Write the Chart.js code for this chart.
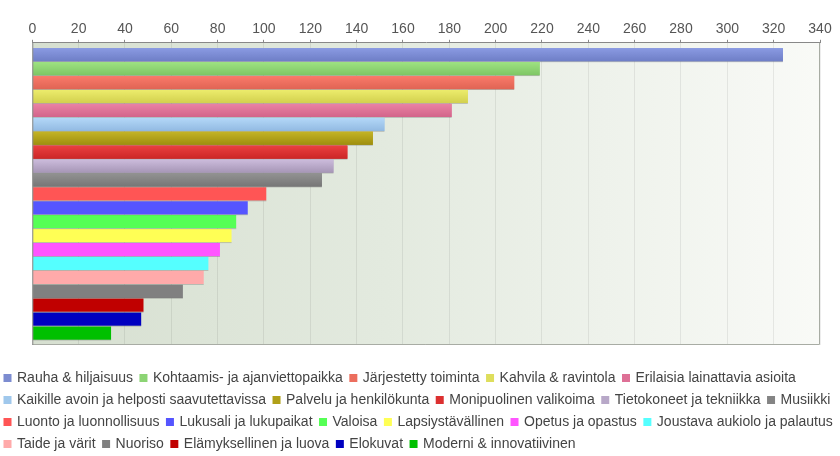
<!DOCTYPE html>
<html><head><meta charset="utf-8">
<script src="https://cdn.jsdelivr.net/npm/chart.js@4.4.1/dist/chart.umd.min.js"></script>
<style>
html,body{margin:0;padding:0;overflow:hidden;background:#fff;width:840px;height:456px;position:relative}
#wrap{position:absolute;left:-3px;top:0;width:846px;height:461px}
</style>
</head><body><div id="wrap"><canvas id="c" width="846" height="461"></canvas></div>
<script>
const seriesNames = [
  'Rauha & hiljaisuus','Kohtaamis- ja ajanviettopaikka','Järjestetty toiminta','Kahvila & ravintola','Erilaisia lainattavia asioita',
  'Kaikille avoin ja helposti saavutettavissa','Palvelu ja henkilökunta','Monipuolinen valikoima','Tietokoneet ja tekniikka','Musiikki',
  'Luonto ja luonnollisuus','Lukusali ja lukupaikat','Valoisa','Lapsiystävällinen','Opetus ja opastus','Joustava aukiolo ja palautus',
  'Taide ja värit','Nuoriso','Elämyksellinen ja luova','Elokuvat','Moderni & innovatiivinen'
];
const seriesValues = [324,219,208,188,181,152,147,136,130,125,101,93,88,86,81,76,74,65,48,47,34];
const xTickValues = [0,20,40,60,80,100,120,140,160,180,200,220,240,260,280,300,320,340];

const legendColors = ['#7c8cd0','#8cd474','#ec6e5e','#dede5c','#de7096','#a0c8ec','#b0a018','#dc3030','#b8a8c8','#848484',
  '#ff5555','#5555ff','#55ff55','#ffff55','#ff55ff','#55ffff','#ffaaaa','#808080','#c00000','#0000c0','#00c000'];
const barTopColors = ['#8a9ae2','#9ee282','#fa7a6a','#ecec6c','#ea82a4','#b4d8f8','#c4b426','#ea4040','#ccbcdc','#929292',
  null,null,null,null,null,null,null,null,null,null,null];
const barBottomColors = ['#6e7ec6','#7ec664','#e06454','#d2d04e','#d2648a','#92bae2','#9e8e0e','#cc2626','#a696b6','#767676',
  null,null,null,null,null,null,null,null,null,null,null];

const FONT = "'Liberation Sans', Arial, sans-serif";

const decor = {
  id: 'decor',
  beforeDraw(chart) {
    const {ctx, chartArea: a} = chart;
    const g = ctx.createLinearGradient(a.left, 0, a.right, 0);
    g.addColorStop(0, '#d6dfd0');
    g.addColorStop(0.45, '#e3eadf');
    g.addColorStop(1, '#f9faf7');
    ctx.save();
    ctx.fillStyle = g;
    ctx.fillRect(a.left, a.top, a.right - a.left, a.bottom - a.top);
    ctx.restore();
  },
  afterDatasetsDraw(chart) {
    const {ctx, chartArea: a} = chart;
    ctx.save();
    chart.data.datasets.forEach((ds, i) => {
      const meta = chart.getDatasetMeta(i);
      meta.data.forEach(el => {
        const p = el.getProps(['x', 'y', 'base', 'height'], true);
        const top = p.y - p.height / 2;
        const left = Math.min(p.x, p.base), w = Math.abs(p.x - p.base);
        if (barTopColors[i]) {
          const g = ctx.createLinearGradient(0, top, 0, top + p.height);
          g.addColorStop(0, barTopColors[i]);
          g.addColorStop(1, barBottomColors[i]);
          ctx.fillStyle = g;
          ctx.fillRect(left, top, w, p.height);
        }
        ctx.fillStyle = 'rgba(90,90,90,0.35)';
        ctx.fillRect(left, top + p.height, w, 0.8);
      });
    });
    ctx.lineWidth = 1;
    ctx.strokeStyle = '#a8aca4';
    ctx.beginPath();
    ctx.moveTo(a.right - 0.5, a.top);
    ctx.lineTo(a.right - 0.5, a.bottom - 0.5);
    ctx.lineTo(a.left, a.bottom - 0.5);
    ctx.stroke();
    ctx.strokeStyle = '#8c8c8c';
    ctx.beginPath();
    ctx.moveTo(a.left + 0.5, a.top);
    ctx.lineTo(a.left + 0.5, a.bottom);
    ctx.stroke();
    ctx.restore();
  }
};

new Chart(document.getElementById('c'), {
  type: 'bar',
  data: {
    labels: [''],
    datasets: seriesNames.map((n, i) => ({
      label: n,
      data: [seriesValues[i]],
      backgroundColor: legendColors[i],
      borderWidth: 0,
      categoryPercentage: 0.967,
      barPercentage: 0.95
    }))
  },
  options: {
    indexAxis: 'y',
    responsive: false,
    animation: false,
    devicePixelRatio: 1,
    layout: {padding: {top: 19, left: 0, right: 0, bottom: 0}},
    scales: {
      x: {
        type: 'linear', position: 'top', min: 0, max: 340,
        afterBuildTicks: s => { s.ticks = xTickValues.map(v => ({value: v})); },
        ticks: {font: {family: FONT, size: 14}, color: '#555', padding: 2},
        grid: {color: 'rgba(0,0,0,0.07)', tickColor: '#888', tickLength: 3},
        border: {color: '#888'}
      },
      y: {
        type: 'category', display: true,
        ticks: {display: false}, grid: {display: false, drawTicks: false}, border: {display: false},
        afterFit: s => { s.width = 35.3; }
      },
      y2: {
        type: 'linear', position: 'right', display: true,
        ticks: {display: false}, grid: {display: false, drawTicks: false}, border: {display: false},
        afterFit: s => { s.width = 23; }
      }
    },
    plugins: {
      tooltip: {enabled: false},
      legend: {
        position: 'bottom', align: 'start',
        title: {display: true, text: '', font: {size: 10, lineHeight: 1}, padding: {top: 8, bottom: 0}},
        labels: {
          boxWidth: 5, boxHeight: 5, padding: 8,
          font: {family: FONT, size: 14}, color: '#444',
          generateLabels: chart => chart.data.datasets.map((d, i) => ({
            text: d.label, fillStyle: legendColors[i], strokeStyle: legendColors[i],
            lineWidth: 3, hidden: false, datasetIndex: i, fontColor: '#444'
          }))
        }
      }
    }
  },
  plugins: [decor]
});
</script>
</body></html>
